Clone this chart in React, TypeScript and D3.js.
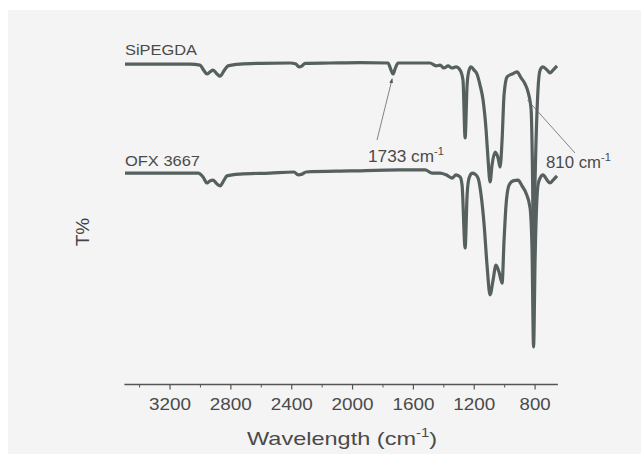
import React from "react";
import * as d3 from "d3";

// wavenumber (cm-1), transmittance (arb. %)
const siWave = [3496, 3331, 3069, 3003, 2976, 2957, 2937, 2917, 2891, 2871, 2845, 2819, 2740, 2608, 2411, 2372, 2352, 2332, 2312, 2148, 1951, 1767, 1747, 1734, 1721, 1701, 1556, 1491, 1451, 1425, 1399, 1372, 1346, 1320, 1293, 1274, 1260, 1247, 1234, 1221, 1201, 1182, 1162, 1142, 1122, 1109, 1096, 1083, 1063, 1043, 1030, 1017, 1004, 984, 951, 919, 892, 866, 846, 826, 817, 810, 800, 781, 767, 748, 721, 702, 682, 656];
const siT = [90.4, 90.4, 90.4, 90.1, 88.5, 87.6, 88.2, 88.7, 87.6, 87.0, 88.5, 89.9, 90.4, 90.6, 90.7, 90.4, 89.6, 89.9, 90.6, 90.7, 90.8, 90.7, 88.7, 87.6, 89.0, 90.7, 90.7, 90.7, 89.9, 90.1, 89.3, 89.9, 89.3, 89.6, 88.7, 85.9, 69.6, 84.5, 88.7, 89.6, 88.7, 87.6, 84.5, 80.3, 71.8, 63.4, 57.2, 62.0, 65.6, 63.9, 61.4, 69.0, 81.7, 86.8, 87.6, 88.2, 86.5, 84.8, 82.5, 77.5, 60.0, 34.6, 57.7, 83.1, 88.7, 89.6, 88.7, 87.9, 88.7, 89.9];

const ofxWave = [3496, 3266, 3016, 2983, 2957, 2937, 2917, 2891, 2871, 2845, 2826, 2740, 2543, 2385, 2358, 2332, 2306, 2017, 1688, 1523, 1477, 1425, 1385, 1346, 1320, 1293, 1280, 1260, 1247, 1234, 1214, 1195, 1175, 1155, 1135, 1116, 1096, 1076, 1057, 1037, 1017, 1004, 991, 971, 945, 912, 886, 860, 833, 820, 810, 800, 781, 767, 748, 721, 702, 682, 656];
const ofxT = [59.7, 59.7, 59.7, 58.6, 56.9, 57.5, 57.7, 56.6, 56.1, 57.7, 58.9, 59.4, 59.7, 60.0, 59.2, 59.4, 60.0, 60.3, 60.6, 60.6, 59.7, 59.7, 59.2, 58.3, 59.2, 58.6, 56.3, 38.6, 53.5, 58.3, 59.7, 59.4, 58.3, 53.5, 45.1, 33.8, 25.4, 29.6, 33.8, 31.8, 28.7, 40.8, 50.7, 56.3, 57.5, 57.7, 56.1, 54.1, 49.9, 38.0, 10.7, 35.2, 56.3, 58.3, 59.2, 57.7, 56.9, 57.7, 58.9];

const majorTicks = [3200, 2800, 2400, 2000, 1600, 1200, 800];
const minorTicks = [3400, 3000, 2600, 2200, 1800, 1400, 1000];

const W = 641;
const H = 454;
const font = "'Liberation Sans', Arial, sans-serif";
const lineColor = "#56605f";
const textColor = "#4a4a4a";

export default function App() {
  const x = d3.scaleLinear().domain([3500, 650]).range([124.4, 557.9]);
  const y = d3.scaleLinear().domain([0, 100]).range([385, 30]);
  const axisY = 384.5;

  const path = (ws: number[], ts: number[]) =>
    d3
      .line<[number, number]>()
      .x((d) => x(d[0]))
      .y((d) => y(d[1]))
      .curve(d3.curveMonotoneX)(ws.map((w, i) => [w, ts[i]] as [number, number])) || "";

  return (
    <svg width={W} height={H} style={{ position: "absolute", left: 0, top: 0 }}>
      <rect x={0} y={0} width={W} height={H} fill="#ffffff" />
      <rect x={8} y={10} width={W - 8} height={H - 10} fill="#f4f4f4" />

      {/* spectra */}
      <path d={path(siWave, siT)} fill="none" stroke={lineColor} strokeWidth={3.2} strokeLinejoin="round" />
      <path d={path(ofxWave, ofxT)} fill="none" stroke={lineColor} strokeWidth={3.2} strokeLinejoin="round" />

      {/* bottom axis */}
      <line x1={x(3500)} x2={x(650)} y1={axisY} y2={axisY} stroke="#555" strokeWidth={1.5} />
      {majorTicks.map((t) => (
        <g key={t}>
          <line x1={x(t)} x2={x(t)} y1={axisY} y2={axisY + 5} stroke="#555" strokeWidth={1.2} />
          <text
            x={x(t)}
            y={410}
            textAnchor="middle"
            fontFamily={font}
            fontSize={17}
            fill={textColor}
            textLength={t >= 1000 ? 42 : 31}
            lengthAdjust="spacingAndGlyphs"
          >
            {t}
          </text>
        </g>
      ))}
      {minorTicks.map((t) => (
        <line key={t} x1={x(t)} x2={x(t)} y1={axisY} y2={axisY + 3} stroke="#555" strokeWidth={1} />
      ))}

      <text x={247} y={445} fontFamily={font} fontSize={19} fill={textColor} textLength={190} lengthAdjust="spacingAndGlyphs">
        Wavelength (cm<tspan dy={-8} fontSize={12}>-1</tspan>
        <tspan dy={8}>)</tspan>
      </text>

      <text
        transform="translate(89,232) rotate(-90)"
        textAnchor="middle"
        fontFamily={font}
        fontSize={19}
        fill="#444"
      >
        T%
      </text>

      {/* series labels */}
      <text x={125} y={55} fontFamily={font} fontSize={15} fill={textColor} textLength={72} lengthAdjust="spacingAndGlyphs">
        SiPEGDA
      </text>
      <text x={125} y={166} fontFamily={font} fontSize={15} fill={textColor} textLength={75} lengthAdjust="spacingAndGlyphs">
        OFX 3667
      </text>

      {/* annotations */}
      <defs>
        <marker id="arr" viewBox="0 0 10 10" refX={9} refY={5} markerWidth={6} markerHeight={6} orient="auto">
          <path d="M0,1 L10,5 L0,9 z" fill="#555" />
        </marker>
      </defs>
      <line x1={377} y1={140} x2={x(1733) - 1} y2={y(88.5) + 8} stroke="#666" strokeWidth={0.8} markerEnd="url(#arr)" />
      <text x={368} y={162} fontFamily={font} fontSize={16} fill={textColor}>
        <tspan textLength={66} lengthAdjust="spacingAndGlyphs">1733 cm</tspan>
        <tspan dy={-7} fontSize={11}>-1</tspan>
      </text>
      <line x1={x(830) - 3} y1={100} x2={575} y2={153} stroke="#666" strokeWidth={0.8} />
      <text x={546} y={168} fontFamily={font} fontSize={16} fill={textColor}>
        <tspan textLength={55} lengthAdjust="spacingAndGlyphs">810 cm</tspan>
        <tspan dy={-7} fontSize={11}>-1</tspan>
      </text>
    </svg>
  );
}
